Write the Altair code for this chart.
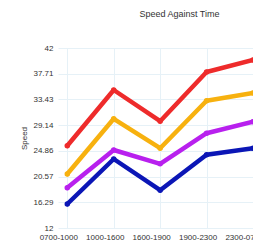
import altair as alt
import pandas as pd

times = ["0700-1000", "1000-1600", "1600-1900", "1900-2300", "2300-0700"]
series_names = ["Red", "Orange", "Purple", "Blue"]
red = [25.7, 35.0, 29.8, 38.0, 40.0]
orange = [21.0, 30.2, 25.3, 33.2, 34.5]
purple = [18.7, 25.0, 22.7, 27.8, 29.7]
blue = [16.0, 23.5, 18.3, 24.2, 25.3]
colors = ["#ee2b2b", "#f7b10f", "#b820ee", "#0b16b6"]
y_ticks = [12, 16.29, 20.57, 24.86, 29.14, 33.43, 37.71, 42]

rows = []
for name, vals in zip(series_names, [red, orange, purple, blue]):
    for i, v in enumerate(vals):
        rows.append({"series": name, "idx": i, "time": times[i], "speed": v})
df = pd.DataFrame(rows)

label_expr = "[" + ",".join(f"'{t}'" for t in times) + "][datum.value]"

x = alt.X("idx:Q",
          scale=alt.Scale(domain=[-0.2, 4.0], nice=False, zero=False),
          axis=alt.Axis(values=[0, 1, 2, 3, 4], labelExpr=label_expr, title=None,
                        ticks=False, domain=False, grid=True, gridColor="#e6f1f7",
                        labelOffset=-9, labelPadding=5, labelFontSize=8,
                        labelColor="#333333", labelFont="Liberation Sans",
                        labelOverlap=False, labelBound=False, labelFlush=False))
y = alt.Y("speed:Q",
          scale=alt.Scale(domain=[12, 42], nice=False, zero=False),
          axis=alt.Axis(values=y_ticks, format=".2~f", title="Speed", ticks=False, domain=False,
                        grid=True, gridColor="#e6f1f7", labelPadding=5,
                        labelFontSize=8, labelColor="#333333", labelFont="Liberation Sans",
                        titleFontSize=8, titleFontWeight="normal", titleColor="#333333",
                        titleFont="Liberation Sans", titlePadding=4))
color = alt.Color("series:N", scale=alt.Scale(domain=series_names, range=colors), legend=None)

lines = alt.Chart(df).mark_line(strokeWidth=4.5, strokeJoin="round", strokeCap="round").encode(
    x=x, y=y, color=color, detail="series:N")
pts = alt.Chart(df).mark_circle(size=30, opacity=1).encode(x=x, y=y, color=color)

chart = alt.layer(lines, pts).properties(
    width=195, height=180,
    title=alt.TitleParams("Speed Against Time", fontSize=9, fontWeight="normal",
                          color="#333333", font="Liberation Sans", offset=25, dx=24),
    autosize=alt.AutoSizeParams(type="none"),
    padding={"left": 50, "top": 40, "right": 0, "bottom": 18},
).configure_view(stroke=None)

chart.save("out.html", embed_options={"renderer": "svg", "actions": False})
